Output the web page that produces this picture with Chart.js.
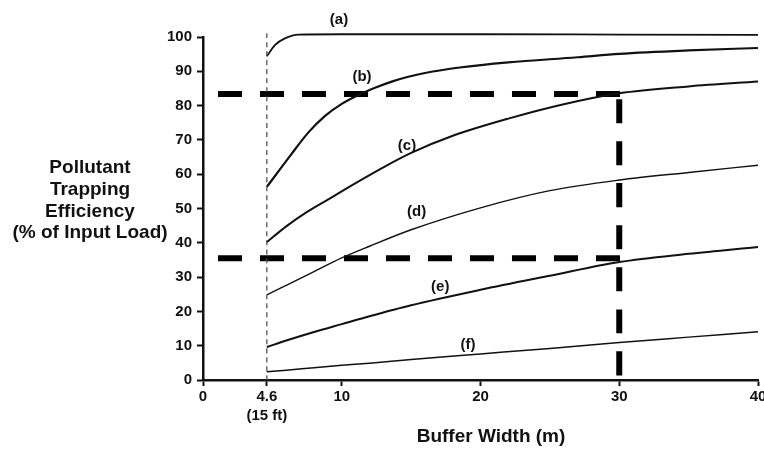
<!DOCTYPE html>
<html>
<head>
<meta charset="utf-8">
<script src="https://cdn.jsdelivr.net/npm/chart.js@4.4.1/dist/chart.umd.min.js"></script>
<style>
  html, body { margin: 0; padding: 0; background: #fff; }
  #wrap { width: 764px; height: 449px; }
</style>
</head>
<body>
<div id="wrap"><canvas id="chart" width="764" height="449"></canvas></div>
<script>
// Each curve was read at its own buffer widths (m)
const widthsA = [4.6, 5.2, 5.9, 6.9, 10, 20, 30, 40];
const curveA = [94.4, 97.7, 99.6, 100.7, 100.8, 100.8, 100.7, 100.6];

const widthsB = [4.6, 6.4, 7.6, 8.8, 10, 11.2, 12.4, 13.6, 14.8, 16, 18.5, 22, 27, 30, 35, 40];
const curveB = [56.3, 66, 72.2, 77, 80.5, 83.1, 85.2, 87, 88.4, 89.5, 91.1, 92.6, 94.1, 95.1, 96.1, 96.8];

const widthsC = [4.6, 6, 7.5, 9, 11, 13, 15, 18, 22, 26, 30, 35, 40];
const curveC = [40.2, 44.8, 49, 52.6, 57.4, 62, 66.2, 71.2, 76.2, 80.4, 83.6, 85.6, 87];

const widths = [4.6, 6, 8, 10, 12, 15, 20, 25, 30, 35, 40];
const curveD = [24.8, 27.6, 31.6, 35.6, 39, 43.8, 50.2, 55.2, 58.3, 60.5, 62.6];
const curveE = [9.6, 11.5, 14, 16.3, 18.6, 21.8, 26.3, 30.4, 34.4, 36.8, 38.8];
const curveF = [2.4, 2.85, 3.6, 4.3, 4.9, 6, 7.6, 9.2, 10.9, 12.5, 14.1];

// reference (worked example) lines
const refHighX = [1.08, 30.1];
const refHighY = [83.4, 83.4];
const refLowX = [1.08, 30.1];
const refLowY = [35.5, 35.5];
const refVertX = [30, 30];
const refVertY = [81.85, 0];
const minWidthX = [4.6, 4.6];
const minWidthY = [101.1, 0];

const xTicks = [0, 4.6, 10, 20, 30, 40];
const curveNames = ['(a)', '(b)', '(c)', '(d)', '(e)', '(f)'];
// where the curve letters sit, in data units
const namePos = [[9.8, 104.9], [11.46, 88.3], [14.7, 68.2], [15.4, 48.9], [17.1, 27.1], [19.1, 10.2]];
const yTitle = ['Pollutant', 'Trapping', 'Efficiency', '(% of Input Load)'];
const xTitle = 'Buffer Width (m)';

const FONT = '"Liberation Sans", Arial, Helvetica, sans-serif';
Chart.defaults.font.family = FONT;
Chart.defaults.color = '#111';

function series(xs, ys, width, color, dash) {
  return {
    data: xs.map((x, i) => ({ x: x, y: ys[i] })),
    borderColor: color,
    borderWidth: width,
    borderDash: dash || [],
    pointRadius: 0,
    fill: false,
    cubicInterpolationMode: 'monotone',
    clip: false
  };
}

// draws the horizontal y title, the x title and the curve letters
const textPlugin = {
  id: 'texts',
  afterDraw(chart) {
    const c = chart.ctx;
    const xs = chart.scales.x, ys = chart.scales.y;
    c.save();
    c.fillStyle = '#111';
    c.textAlign = 'center';
    c.textBaseline = 'middle';
    c.font = 'bold 19px ' + FONT;
    yTitle.forEach((t, i) => c.fillText(t, 90, 168 + i * 21.7));
    c.fillText(xTitle, 491, 437);
    c.font = 'bold 15px ' + FONT;
    curveNames.forEach((t, i) => {
      c.fillText(t, xs.getPixelForValue(namePos[i][0]), ys.getPixelForValue(namePos[i][1]));
    });
    c.restore();
  }
};

new Chart(document.getElementById('chart'), {
  type: 'line',
  data: {
    datasets: [
      series(minWidthX, minWidthY, 1.3, '#555', [5, 4]),
      series(widthsA, curveA, 1.8, '#111'),
      series(widthsB, curveB, 2.2, '#111'),
      series(widthsC, curveC, 2, '#111'),
      series(widths, curveD, 1.4, '#111'),
      series(widths, curveE, 2, '#111'),
      series(widths, curveF, 1.5, '#111'),
      series(refHighX, refHighY, 6, '#000', [24, 18]),
      series(refLowX, refLowY, 6, '#000', [24, 18]),
      series(refVertX, refVertY, 6, '#000', [24, 18])
    ]
  },
  options: {
    responsive: false,
    animation: false,
    events: [],
    layout: { padding: { top: 37, left: 0, right: 6, bottom: 0 } },
    plugins: { legend: { display: false }, tooltip: { enabled: false } },
    scales: {
      x: {
        type: 'linear',
        min: 0,
        max: 40,
        afterBuildTicks: (scale) => { scale.ticks = xTicks.map(v => ({ value: v })); },
        afterFit: (scale) => { scale.height = 69; scale.paddingRight = 0; scale.paddingLeft = 0; },
        ticks: {
          autoSkip: false,
          maxRotation: 0,
          padding: 1,
          color: '#111',
          font: { size: 15, weight: 'bold', lineHeight: 1.3 },
          callback: (v) => v === 4.6 ? ['4.6', '(15 ft)'] : String(v)
        },
        grid: { drawOnChartArea: false, drawTicks: true, tickLength: 6, tickWidth: 2, tickColor: '#111' },
        border: { display: true, color: '#111', width: 2.5 }
      },
      y: {
        min: 0,
        max: 100,
        afterFit: (scale) => { scale.width = 203; },
        ticks: {
          stepSize: 10,
          padding: 5,
          color: '#111',
          font: { size: 15, weight: 'bold' }
        },
        grid: { drawOnChartArea: false, drawTicks: true, tickLength: 6, tickWidth: 2, tickColor: '#111' },
        border: { display: true, color: '#111', width: 2.5 }
      }
    }
  },
  plugins: [textPlugin]
});
</script>
</body>
</html>
